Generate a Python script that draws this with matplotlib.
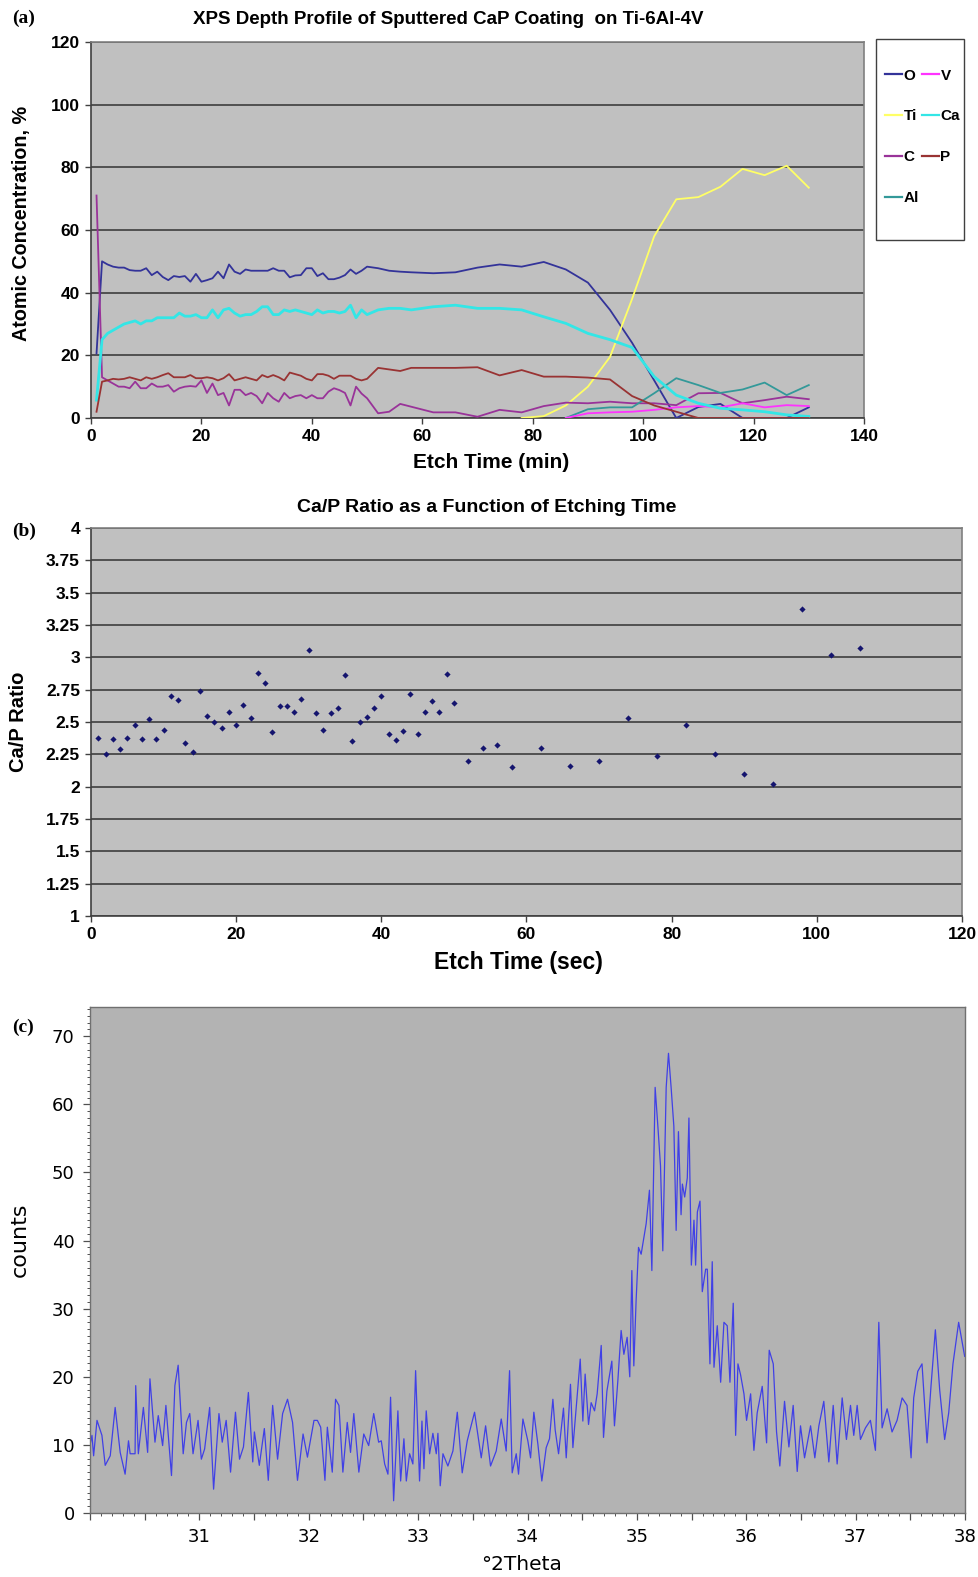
import numpy as np
import matplotlib.pyplot as plt
import matplotlib.ticker as mticker
from matplotlib.patches import Rectangle

nan = np.nan

# ======================
# Panel (a): XPS depth profile
# ======================
etch_min = [1, 2, 3, 4, 5, 6, 7, 8, 9, 10, 11, 12, 13, 14, 15, 16, 17, 18, 19, 20,
            21, 22, 23, 24, 25, 26, 27, 28, 29, 30, 31, 32, 33, 34, 35, 36, 37, 38, 39, 40,
            41, 42, 43, 44, 45, 46, 47, 48, 49, 50,
            52, 54, 56, 58, 62, 66, 70, 74, 78, 82, 86, 90, 94, 98, 102, 106, 110, 114,
            118, 122, 126, 130]

conc_O = [20.6, 50, 49, 48.3, 48, 48, 47.2, 47, 47, 47.8, 45.6, 46.7, 45, 44, 45.3, 45, 45.3, 43.5, 46, 43.5,
          44, 44.6, 46.7, 44.6, 49, 46.7, 46, 47.4, 47, 47, 47, 47, 47.8, 47, 47, 44.9, 45.5, 45.6, 47.8, 47.8,
          45.3, 46.2, 44.3, 44.3, 44.8, 45.6, 47.4, 46, 47, 48.3,
          47.8, 47, 46.7, 46.5, 46.2, 46.5, 48, 49, 48.3, 49.8, 47.4, 43.2, 34.5, 24, 12, 0, 3.5, 4.5,
          0, 0, 0, 3.4]
conc_Ca = [5.7, 25, 27, 28, 29, 30, 30.5, 31, 30, 31, 31, 32, 32, 32, 32, 33.5, 32.5, 32.5, 33, 32,
           32, 34.5, 32, 34.5, 35, 33.5, 32.5, 33, 33, 34, 35.5, 35.5, 33, 33, 34.5, 34, 34.5, 34, 33.5, 33,
           34.5, 33.5, 34, 34, 33.5, 34, 36, 32, 34.5, 33,
           34.5, 35, 35, 34.5, 35.5, 36, 35, 35, 34.5, 32.3, 30.2, 27, 25, 22.5, 13.2, 7.3, 4.7, 3.1,
           2.6, 2, 1, 0.5]
conc_P = [2, 11.6, 12, 12.5, 12.3, 12.5, 13, 12.5, 12, 13, 12.5, 13, 13.7, 14.3, 13, 13, 13, 13.7, 12.7, 12.7,
          13, 12.7, 12, 12.7, 14, 12, 12.5, 13, 12.5, 12, 13.7, 13, 13.7, 13, 12, 14.5, 14, 13.5, 12.5, 12,
          14, 14, 13.5, 12.5, 13.5, 13.5, 13.5, 12.5, 12, 12.5,
          16, 15.5, 15, 16, 16, 16, 16.2, 13.6, 15.3, 13.2, 13.2, 12.9, 12.3, 7, 4, 2, 0, 0,
          0, 0, 0, 0]
conc_C = [71, 13, 12, 11, 10, 10, 9.5, 11.6, 9.5, 9.5, 11, 10, 10, 10.5, 8.4, 9.5, 10, 10.2, 10, 12,
          8, 11, 7.3, 8, 4, 9, 9, 7.3, 8, 7, 4.7, 8, 6.3, 5.2, 8, 6.3, 7, 7.3, 6.3, 7.3,
          6.3, 6.3, 8.4, 9.5, 8.9, 8, 4, 10, 7.8, 6.3,
          1.5, 2, 4.5, 3.6, 1.8, 1.8, 0.4, 2.6, 1.8, 3.8, 4.9, 4.7, 5.2, 4.7, 4.7, 4.1, 7.9, 8,
          4.7, 5.7, 6.8, 6]
conc_Ti = [nan] * 58 + [0, 0.6, 4, 10, 19.5, 38, 58, 69.8, 70.5, 73.8, 79.5, 77.5, 80.5, 73.5]
conc_Al = [nan] * 60 + [0, 2.8, 3.4, 3.4, 7.9, 12.7, 10.5, 8, 9.1, 11.3, 7.3, 10.5]
conc_V = [nan] * 60 + [0, 1.5, 1.8, 2, 2.6, 3.4, 3.8, 3.4, 4.7, 3.4, 4.1, 3.8]

# ======================
# Panel (b): Ca/P ratio
# ======================
etch_sec = [1, 2, 3, 4, 5, 6, 7, 8, 9, 10, 11, 12, 13, 14, 15, 16, 17, 18, 19, 20,
            21, 22, 23, 24, 25, 26, 27, 28, 29, 30, 31, 32, 33, 34, 35, 36, 37, 38, 39, 40,
            41, 42, 43, 44, 45, 46, 47, 48, 49, 50,
            52, 54, 56, 58, 62, 66, 70, 74, 78, 82, 86, 90, 94, 98, 102, 106]
ca_p_ratio = [2.38, 2.25, 2.37, 2.29, 2.38, 2.48, 2.37, 2.52, 2.37, 2.44, 2.70, 2.67, 2.34, 2.27, 2.74,
              2.55, 2.50, 2.45, 2.58, 2.48, 2.63, 2.53, 2.88, 2.80, 2.42, 2.62, 2.62, 2.58, 2.68, 3.06,
              2.57, 2.44, 2.57, 2.61, 2.86, 2.35, 2.50, 2.54, 2.61, 2.70, 2.41, 2.36, 2.43, 2.72, 2.41,
              2.58, 2.66, 2.58, 2.87, 2.65,
              2.20, 2.30, 2.32, 2.15, 2.30, 2.16, 2.20, 2.53, 2.24, 2.48, 2.25, 2.10, 2.02, 3.37, 3.02, 3.07]

# ======================
# Panel (c): XRD pattern (vertices)
# ======================
two_theta = [30.00, 30.018, 30.033, 30.064, 30.109, 30.139, 30.185, 30.230, 30.276, 30.321, 30.352, 30.367,
             30.412, 30.418, 30.442, 30.488, 30.527, 30.548, 30.594, 30.624, 30.664, 30.694, 30.745, 30.776,
             30.806, 30.852, 30.882, 30.912, 30.942, 30.988, 31.018, 31.048, 31.094, 31.130, 31.179, 31.209,
             31.245, 31.285, 31.330, 31.367, 31.403, 31.448, 31.488, 31.503, 31.548, 31.594, 31.630, 31.670,
             31.715, 31.761, 31.806, 31.852, 31.897, 31.948, 31.988, 32.048, 32.079, 32.109, 32.148, 32.170,
             32.215, 32.245, 32.276, 32.312, 32.352, 32.382, 32.412, 32.458, 32.503, 32.548, 32.594, 32.639,
             32.663, 32.694, 32.724, 32.748, 32.776, 32.815, 32.840, 32.870, 32.892, 32.922, 32.952, 32.977,
             33.013, 33.035, 33.053, 33.074, 33.105, 33.135, 33.166, 33.181, 33.202, 33.227, 33.272, 33.318,
             33.358, 33.403, 33.449, 33.516, 33.577, 33.617, 33.662, 33.714, 33.760, 33.805, 33.836, 33.860,
             33.897, 33.918, 33.958, 34.003, 34.028, 34.058, 34.095, 34.131, 34.171, 34.201, 34.232, 34.253,
             34.284, 34.329, 34.354, 34.393, 34.415, 34.439, 34.482, 34.506, 34.527, 34.558, 34.582, 34.613,
             34.637, 34.674, 34.695, 34.726, 34.771, 34.795, 34.826, 34.856, 34.881, 34.911, 34.935, 34.954,
             34.972, 34.993, 35.015, 35.039, 35.085, 35.115, 35.137, 35.167, 35.191, 35.216, 35.237, 35.268,
             35.289, 35.313, 35.338, 35.359, 35.380, 35.404,
             35.416, 35.437, 35.461, 35.476, 35.498, 35.522, 35.537, 35.553, 35.577, 35.598, 35.629, 35.644,
             35.668, 35.689, 35.705, 35.735, 35.766, 35.796, 35.826, 35.851, 35.881, 35.903, 35.924, 35.948,
             35.979, 36.003, 36.040, 36.070, 36.100, 36.146, 36.186, 36.210, 36.247, 36.277, 36.307, 36.350,
             36.390, 36.429, 36.466, 36.496, 36.533, 36.588, 36.627, 36.664, 36.709, 36.755, 36.795, 36.831,
             36.877, 36.916, 36.953, 36.983, 37.014, 37.044, 37.090, 37.135, 37.181, 37.212, 37.242, 37.288,
             37.333, 37.379, 37.425, 37.470, 37.507, 37.531, 37.568, 37.607, 37.653, 37.689, 37.729, 37.769,
             37.814, 37.851, 37.890, 37.942, 37.997]
counts = [10, 11.4, 8.4, 13.6, 11.4, 7, 8.4, 15.5, 8.9, 5.7, 10.6, 8.7,
          8.7, 18.7, 8.7, 15.5, 8.9, 19.7, 10.4, 14.3, 9.9, 15.8, 5.5, 18.7,
          21.7, 8.7, 13.3, 14.6, 8.7, 13.6, 7.9, 9.4, 15.5, 3.5, 14.6, 10.4,
          13.6, 6, 14.8, 7.9, 9.7, 17.7, 7.5, 11.9, 7, 12.4, 4.8, 15.8,
          7.9, 14.6, 16.7, 13.3, 4.8, 11.6, 8.2, 13.6, 13.6, 12.6, 4.8, 12.6,
          6, 16.7, 15.8, 6, 13.3, 8.9, 14.6, 6, 11.6, 9.9, 14.6, 10.4,
          10.6, 7.2, 5.7, 17, 1.8, 15, 4.7, 10.9, 4.7, 8.7, 7.2, 20.9,
          4.7, 13.5, 6.5, 15, 8.7, 11.7, 8.7, 11.7, 4, 8.7, 6.9, 9.1,
          14.8, 5.9, 10.6, 14.8, 8.1, 12.8, 6.9, 9.1, 13.8, 9.1, 20.9, 5.9,
          8.7, 5.7, 13.8, 10.6, 8.1, 14.8, 10.1, 4.7, 9.6, 10.9, 16.7, 12.2,
          8.7, 15.4, 8.1, 18.9, 9.6, 14.3, 22.6, 13.5, 20.4, 13, 16.2, 15,
          17.5, 24.6, 11.1, 17.9, 22.3, 12.8, 19.4, 26.8, 23.3, 25.8, 20, 35.6,
          21.6, 31.2, 39, 38, 42.5, 47.4, 35.6, 62.5, 57, 51, 38.5, 62.5,
          67.5, 62.5, 56.8, 41.5, 56, 43.8,
          48.3, 46.4, 49.2, 58, 36.4, 43, 36.4, 44.2, 45.8, 32.5, 35.8, 35.8,
          21.9, 36.9, 21.4, 27.5, 19.2, 28, 27.5, 19.2, 30.8, 11.4, 21.9, 20.3,
          17.5, 13.6, 17.5, 9.2, 14.7, 18.6, 10.3, 23.9, 21.9, 11.9, 6.9, 16.4,
          9.7, 15.8, 6.1, 12.8, 8.1, 12.8, 8.1, 12.8, 16.4, 7.5, 15.8, 7.2,
          16.9, 10.8, 15.8, 11.4, 15.8, 10.8, 12.5, 13.6, 9.2, 28, 12.5, 15.3,
          11.9, 13.6, 16.9, 15.8, 8.1, 16.9, 20.8, 21.9, 10.3, 18.6, 26.9, 18,
          10.8, 14.7, 21.9, 28, 23]

# ======================
# Layout helpers (pixel coordinates from the top-left corner)
# ======================
W, H = 979, 1577


def rect(l, t, r, b):
    return [l / W, 1 - b / H, (r - l) / W, (b - t) / H]


def fx(x):
    return x / W


def fy(y):
    return 1 - y / H


SANS = ['Liberation Sans', 'DejaVu Sans']
SERIF = ['Liberation Serif', 'DejaVu Serif']

fig = plt.figure(figsize=(W / 100, H / 100), dpi=100)
fig.patch.set_facecolor('white')

# ======================
# (a)
# ======================
ax1 = fig.add_axes(rect(91, 42, 864, 418))
ax1.set_facecolor('#c0c0c0')
series = [
    ('O', conc_O, '#333399', 1.3),
    ('Ti', conc_Ti, '#ffff66', 1.3),
    ('C', conc_C, '#993399', 1.3),
    ('Al', conc_Al, '#339999', 1.3),
    ('V', conc_V, '#ff33ff', 1.3),
    ('Ca', conc_Ca, '#33e6e6', 2.0),
    ('P', conc_P, '#993333', 1.3),
]
handles = []
for name, vals, col, lw in series:
    h, = ax1.plot(etch_min, vals, color=col, linewidth=lw, label=name, zorder=3)
    handles.append(h)
ax1.set_xlim(0, 140)
ax1.set_ylim(0, 120)
ax1.set_xticks(np.arange(0, 141, 20))
ax1.set_yticks(np.arange(0, 121, 20))
ax1.yaxis.grid(True, color='#505050', linewidth=1.4, zorder=1)
ax1.set_axisbelow(True)
for s in ax1.spines.values():
    s.set_color('#808080')
    s.set_linewidth(1.2)
ax1.spines['bottom'].set_color('#404040')
ax1.spines['left'].set_color('#404040')
ax1.tick_params(length=4, width=1, color='#404040', pad=4, labelsize=12.5)
for lab in ax1.get_xticklabels() + ax1.get_yticklabels():
    lab.set_fontfamily(SANS)
    lab.set_fontweight('bold')

fig.text(fx(448), fy(19), 'XPS Depth Profile of Sputtered CaP Coating  on Ti-6Al-4V',
         ha='center', va='center', fontsize=13.5, fontweight='bold', family=SANS)
fig.text(fx(491), fy(463), 'Etch Time (min)', ha='center', va='center',
         fontsize=15, fontweight='bold', family=SANS)
fig.text(fx(22), fy(223), 'Atomic Concentration, %', ha='center', va='center',
         rotation=90, fontsize=14.2, fontweight='bold', family=SANS)

# legend box (Excel style, two columns)
fig.add_artist(Rectangle((fx(876), fy(240)), fx(964) - fx(876), fy(39) - fy(240),
                         transform=fig.transFigure, facecolor='white',
                         edgecolor='#404040', linewidth=1.0, zorder=1))
leg = fig.legend(handles=handles, loc='upper left', bbox_to_anchor=(fx(871), fy(55)),
                 ncol=2, frameon=False,
                 handlelength=1.1, handletextpad=0.12, columnspacing=0.2,
                 labelspacing=1.75, prop={'family': SANS, 'weight': 'bold', 'size': 11})
for lh in leg.get_lines():
    lh.set_linewidth(1.6)
leg.set_zorder(5)

# ======================
# (b)
# ======================
ax2 = fig.add_axes(rect(91, 528, 962, 916))
ax2.set_facecolor('#c0c0c0')
ax2.scatter(etch_sec, ca_p_ratio, marker='D', s=10, color='#14146e', zorder=3, linewidths=0)
ax2.set_xlim(0, 120)
ax2.set_ylim(1, 4)
ax2.set_xticks(np.arange(0, 121, 20))
ax2.set_yticks(np.arange(1, 4.01, 0.25))
ax2.yaxis.set_major_formatter(mticker.FuncFormatter(lambda v, p: f'{v:g}'))
ax2.yaxis.grid(True, color='#505050', linewidth=1.4, zorder=1)
ax2.set_axisbelow(True)
for s in ax2.spines.values():
    s.set_color('#808080')
    s.set_linewidth(1.2)
ax2.spines['bottom'].set_color('#404040')
ax2.spines['left'].set_color('#404040')
ax2.tick_params(length=4, width=1, color='#404040', pad=4, labelsize=12.5)
for lab in ax2.get_xticklabels() + ax2.get_yticklabels():
    lab.set_fontfamily(SANS)
    lab.set_fontweight('bold')

fig.text(fx(487), fy(508), 'Ca/P Ratio as a Function of Etching Time', ha='center', va='center',
         fontsize=14, fontweight='bold', family=SANS)
fig.text(fx(518), fy(963), 'Etch Time (sec)', ha='center', va='center',
         fontsize=16.5, fontweight='bold', family=SANS)
fig.text(fx(19), fy(722), 'Ca/P Ratio', ha='center', va='center',
         rotation=90, fontsize=14.5, fontweight='bold', family=SANS)

# ======================
# (c)
# ======================
ax3 = fig.add_axes(rect(90, 1007, 965, 1513))
ax3.set_facecolor('#b3b3b3')
ax3.plot(two_theta, counts, color='#4040e6', linewidth=0.9)
ax3.set_xlim(30, 38)
ax3.set_ylim(0, 74.3)
ax3.xaxis.set_major_locator(mticker.MultipleLocator(0.5))
ax3.xaxis.set_minor_locator(mticker.MultipleLocator(0.1))
ax3.xaxis.set_major_formatter(mticker.FuncFormatter(
    lambda v, p: f'{int(round(v))}' if abs(v - round(v)) < 1e-6 and v > 30.5 else ''))
ax3.yaxis.set_major_locator(mticker.MultipleLocator(10))
ax3.yaxis.set_minor_locator(mticker.MultipleLocator(1))
for s in ax3.spines.values():
    s.set_color('#707070')
    s.set_linewidth(1.0)
ax3.tick_params(which='major', length=5, width=0.9, color='#505050', pad=6, labelsize=13)
ax3.tick_params(which='minor', length=2.5, width=0.7, color='#505050')
for lab in ax3.get_xticklabels() + ax3.get_yticklabels():
    lab.set_fontfamily(['DejaVu Sans'])

fig.text(fx(20), fy(1240), 'counts', ha='center', va='center', rotation=90,
         fontsize=16, family=['DejaVu Sans'])
fig.text(fx(522), fy(1565), '°2Theta', ha='center', va='center',
         fontsize=14.5, family=['DejaVu Sans'])

# panel letters
for letter, y in [('(a)', 18), ('(b)', 531), ('(c)', 1027)]:
    fig.text(fx(12), fy(y), letter, ha='left', va='center', fontsize=14,
             fontweight='bold', family=SERIF)

fig.savefig('out.png', dpi=100)
